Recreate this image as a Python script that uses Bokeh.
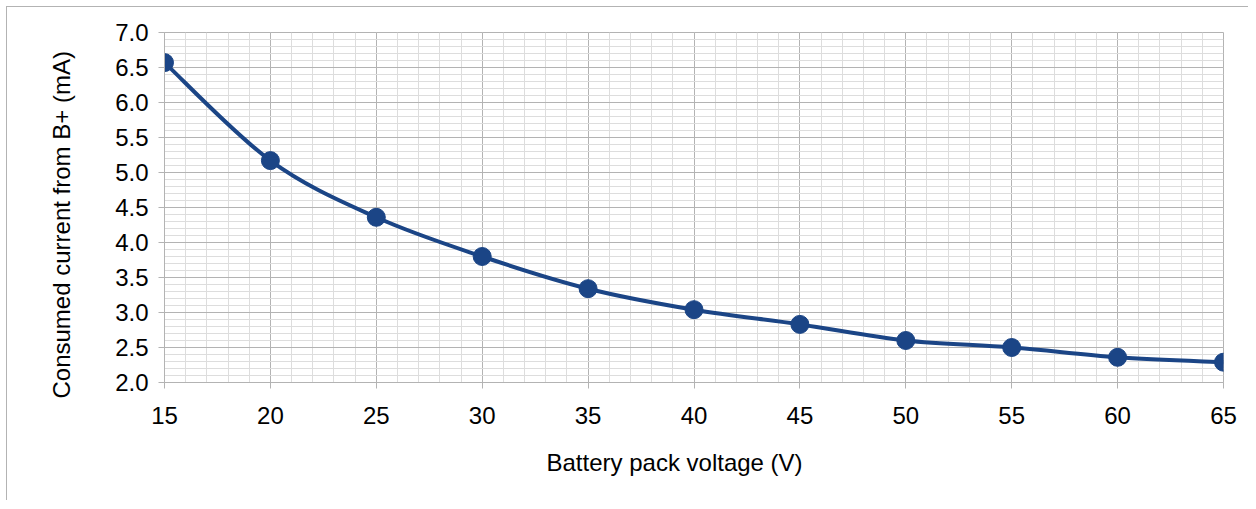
from bokeh.plotting import figure
from bokeh.models import SingleIntervalTicker, NumeralTickFormatter, Range1d, Title
from bokeh.embed import file_html
from bokeh.resources import INLINE

voltage = [15, 20, 25, 30, 35, 40, 45, 50, 55, 60, 65]
current = [6.57, 5.17, 4.36, 3.80, 3.34, 3.04, 2.83, 2.60, 2.50, 2.36, 2.29]
x_title = "Battery pack voltage (V)"
y_title = "Consumed current from B+ (mA)"

LINE = "#1b4586"
GRID = "#b3b3b3"
MINOR = "#dddddd"
FONT = "Liberation Sans"

p = figure(width=1242, height=494, output_backend="svg", toolbar_location=None,
           x_range=Range1d(15, 65), y_range=Range1d(2, 7),
           min_border_left=156, min_border_top=25, min_border_right=26, min_border_bottom=119)
p.styles = {"border-top": "1px solid #b3b3b3", "border-left": "1px solid #b3b3b3",
            "margin-left": "6px", "margin-top": "6px"}

p.xaxis.ticker = SingleIntervalTicker(interval=5, num_minor_ticks=5)
p.yaxis.ticker = SingleIntervalTicker(interval=0.5, num_minor_ticks=5)
p.yaxis.formatter = NumeralTickFormatter(format="0.0")

for ax in (p.xaxis, p.yaxis):
    ax.axis_line_color = GRID
    ax.major_tick_line_color = GRID
    ax.major_tick_out = 6
    ax.major_tick_in = 0
    ax.minor_tick_line_color = None
    ax.major_label_text_font = FONT
    ax.major_label_text_font_size = "24px"
    ax.major_label_text_color = "black"

p.xaxis.major_label_standoff = 18
p.yaxis.major_label_standoff = 10

for g in (p.xgrid, p.ygrid):
    g.grid_line_color = GRID
    g.grid_line_width = 1
    g.minor_grid_line_color = MINOR
    g.minor_grid_line_width = 1
p.outline_line_color = GRID
p.background_fill_color = "white"
p.border_fill_color = "white"

# axis titles (slightly off-centre, as in the reference)
xt = Title(text=x_title, align="left", offset=382, standoff=40, text_font=FONT,
           text_font_size="24px", text_font_style="normal", text_color="black")
yt = Title(text=y_title, align="left", offset=-16, standoff=76, text_font=FONT,
           text_font_size="24px", text_font_style="normal", text_color="black")
p.add_layout(xt, "below")
p.add_layout(yt, "left")

# smooth curve through the data (Catmull-Rom Bezier segments)
n = len(voltage)
x0, y0, x1, y1, cx0, cy0, cx1, cy1 = [], [], [], [], [], [], [], []
for i in range(n - 1):
    pm = max(i - 1, 0)
    pn = min(i + 2, n - 1)
    x0.append(voltage[i]); y0.append(current[i])
    x1.append(voltage[i + 1]); y1.append(current[i + 1])
    cx0.append(voltage[i] + (voltage[i + 1] - voltage[pm]) / 6)
    cy0.append(current[i] + (current[i + 1] - current[pm]) / 6)
    cx1.append(voltage[i + 1] - (voltage[pn] - voltage[i]) / 6)
    cy1.append(current[i + 1] - (current[pn] - current[i]) / 6)

p.bezier(x0=x0, y0=y0, x1=x1, y1=y1, cx0=cx0, cy0=cy0, cx1=cx1, cy1=cy1,
         line_color=LINE, line_width=4)
p.scatter(voltage, current, size=18, fill_color=LINE, line_color=LINE)

open("out.html", "w").write(file_html(p, INLINE))
